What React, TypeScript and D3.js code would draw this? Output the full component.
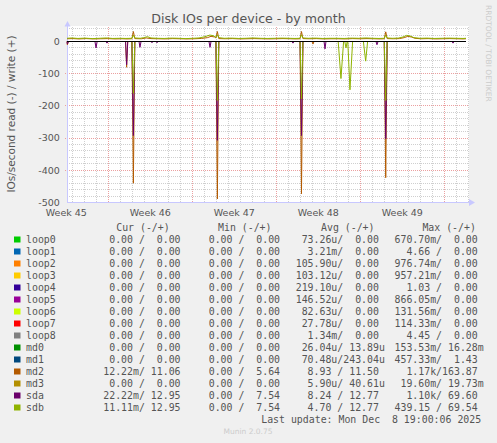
import React from 'react';
import * as d3 from 'd3';

const W = 497;
const H = 443;
const DAY = 86400000;
const START = Date.UTC(2025, 10, 5, 13, 24);
const END = START + 33.5 * DAY;

const title = 'Disk IOs per device - by month';
const yTitle = 'IOs/second read (-) / write (+)';
const yTicks = [0, -100, -200, -300, -400, -500];
const weekLabels = ['Week 45', 'Week 46', 'Week 47', 'Week 48', 'Week 49'];
const weekLabelDates = [
  Date.UTC(2025, 10, 5, 12),
  Date.UTC(2025, 10, 12, 12),
  Date.UTC(2025, 10, 19, 12),
  Date.UTC(2025, 10, 26, 12),
  Date.UTC(2025, 11, 3, 12),
];

// [day offset from start, value]
const md2Write: [number, number][] = [
  [0.0, 8.5], [0.5, 9], [1.0, 8], [1.6, 9], [2.2, 8], [2.8, 8.5], [3.4, 9], [4.0, 8], [4.6, 8.5], [5.0, 8],
  [5.41, 8.5], [5.53, 31], [5.65, 9], [6.2, 8.5], [6.6, 11], [7.0, 9], [7.6, 8.5], [8.2, 8], [8.8, 9], [9.4, 8.5],
  [10.0, 8], [10.6, 8.5], [11.2, 9.5], [11.7, 12], [12.0, 16], [12.3, 14], [12.41, 11], [12.53, 31], [12.65, 9],
  [13.2, 8.5], [13.8, 9], [14.4, 8], [15.0, 8.5], [15.6, 9], [16.2, 8.5], [16.8, 8], [17.4, 8.5], [18.0, 9],
  [18.6, 8.5], [19.1, 8], [19.42, 8.5], [19.54, 31], [19.66, 9], [20.2, 8.5], [20.8, 9], [21.4, 8], [22.0, 8.5],
  [22.6, 8.5], [23.2, 8], [23.8, 9], [24.4, 8.5], [25.0, 9], [25.6, 8.5], [26.1, 8], [26.44, 8.5], [26.56, 30],
  [26.68, 9], [27.2, 8.5], [27.7, 9], [28.1, 12], [28.4, 16], [28.7, 14], [29.0, 10], [29.5, 8.5], [30.1, 9],
  [30.7, 8], [31.3, 8.5], [31.9, 9], [32.5, 8.5], [33.0, 8], [33.25, 8.5],
];
const md2Read: [number, number][] = [
  [0, 0], [0.03, -10], [0.12, 0], [4.88, 0], [4.97, -80], [5.06, 0], [5.41, 0], [5.53, -440], [5.65, 0],
  [12.41, 0], [12.53, -489], [12.65, 0], [19.42, 0], [19.54, -473], [19.66, 0], [20.42, 0], [20.5, -8],
  [20.58, 0], [26.44, 0], [26.56, -423], [26.68, 0], [33.25, 0],
];
const sdaRead: [number, number][] = [
  [0, 0], [0.03, -8], [0.12, 0], [2.33, 0], [2.42, -20], [2.51, 0], [3.25, 0], [3.33, -5], [3.42, 0],
  [4.88, 0], [4.97, -72], [5.06, 0], [5.41, 0], [5.53, -292], [5.65, 0], [6.0, 0], [6.08, -18], [6.17, 0],
  [7.0, 0], [7.08, -4], [7.17, 0], [7.4, 0], [7.5, -4], [7.6, 0], [11.83, 0], [11.92, -18], [12.0, 0],
  [12.41, 0], [12.53, -307], [12.65, 0], [18.75, 0], [18.83, -5], [18.92, 0], [19.42, 0], [19.54, -292],
  [19.66, 0], [21.42, 0], [21.5, -23], [21.58, 0], [25.75, 0], [25.83, -10], [25.92, 0], [26.44, 0],
  [26.56, -302], [26.68, 0], [32.08, 0], [32.17, -5], [32.25, 0], [33.25, 0],
];
const sdbRead: [number, number][] = [
  [0, 0], [5.41, 0], [5.53, -161], [5.65, 0], [12.41, 0], [12.53, -183], [12.65, 0], [19.42, 0],
  [19.54, -178], [19.66, 0], [22.6, 0], [22.83, -115], [23.05, 0], [23.15, 0], [23.25, -20], [23.35, 0],
  [23.4, 0], [23.58, -150], [23.8, 0], [24.7, 0], [24.89, -61], [25.05, 0], [26.44, 0], [26.56, -183],
  [26.68, 0], [33.25, 0],
];
const sdbWrite: [number, number][] = [
  [0.0, 10], [0.4, 11], [0.9, 9.5], [1.5, 10.5], [2.1, 9], [2.7, 10], [3.3, 11], [3.8, 9.5], [4.4, 10],
  [4.9, 9.5], [5.41, 10], [5.53, 20], [5.65, 11], [6.1, 10], [6.4, 12], [6.7, 15], [7.0, 11], [7.5, 10],
  [8.1, 9.5], [8.7, 10.5], [9.3, 10], [9.9, 9], [10.5, 10], [11.0, 11], [11.5, 15], [11.9, 20], [12.2, 18],
  [12.41, 13], [12.53, 21], [12.65, 12], [13.1, 10], [13.7, 10.5], [14.3, 9.5], [14.9, 10], [15.5, 11],
  [16.1, 10], [16.7, 9.5], [17.3, 10], [17.9, 10.5], [18.5, 10], [19.0, 9.5], [19.42, 10], [19.54, 21],
  [19.66, 11], [20.1, 10], [20.7, 10.5], [21.3, 9.5], [21.9, 10], [22.5, 10], [23.1, 9.5], [23.7, 10.5],
  [24.3, 10], [24.9, 11], [25.5, 10], [26.0, 9.5], [26.44, 10], [26.56, 20], [26.68, 11], [27.1, 10],
  [27.6, 10.5], [28.0, 14], [28.3, 19], [28.6, 17], [28.9, 12], [29.4, 10], [30.0, 10.5], [30.6, 9.5],
  [31.2, 10], [31.8, 10.5], [32.4, 10], [33.0, 9.5], [33.25, 10],
];

const legendNames = ['loop0', 'loop1', 'loop2', 'loop3', 'loop4', 'loop5', 'loop6', 'loop7', 'loop8', 'md0', 'md1', 'md2', 'md3', 'sda', 'sdb'];
const legendColors = ['#00CC00', '#0066B3', '#FF8000', '#FFCC00', '#330099', '#990099', '#CCFF00', '#FF0000', '#808080', '#008F00', '#00487D', '#B35A00', '#B38F00', '#6B006B', '#8FB300'];
const curValues = [
  '  0.00 /  0.00 ', '  0.00 /  0.00 ', '  0.00 /  0.00 ', '  0.00 /  0.00 ', '  0.00 /  0.00 ',
  '  0.00 /  0.00 ', '  0.00 /  0.00 ', '  0.00 /  0.00 ', '  0.00 /  0.00 ', '  0.00 /  0.00 ',
  '  0.00 /  0.00 ', ' 12.22m/ 11.06 ', '  0.00 /  0.00 ', ' 22.22m/ 12.95 ', ' 11.11m/ 12.95 ',
];
const minValues = [
  '  0.00 /  0.00 ', '  0.00 /  0.00 ', '  0.00 /  0.00 ', '  0.00 /  0.00 ', '  0.00 /  0.00 ',
  '  0.00 /  0.00 ', '  0.00 /  0.00 ', '  0.00 /  0.00 ', '  0.00 /  0.00 ', '  0.00 /  0.00 ',
  '  0.00 /  0.00 ', '  0.00 /  5.64 ', '  0.00 /  0.00 ', '  0.00 /  7.54 ', '  0.00 /  7.54 ',
];
const avgValues = [
  ' 73.26u/  0.00 ', '  3.21m/  0.00 ', '105.90u/  0.00 ', '103.12u/  0.00 ', '219.10u/  0.00 ',
  '146.52u/  0.00 ', ' 82.63u/  0.00 ', ' 27.78u/  0.00 ', '  1.34m/  0.00 ', ' 26.04u/ 13.89u',
  ' 70.48u/243.04u', '  8.93 / 11.50 ', '  5.90u/ 40.61u', '  8.24 / 12.77 ', '  4.70 / 12.77 ',
];
const maxValues = [
  '670.70m/  0.00 ', '  4.66 /  0.00 ', '976.74m/  0.00 ', '957.21m/  0.00 ', '  1.03 /  0.00 ',
  '866.05m/  0.00 ', '131.56m/  0.00 ', '114.33m/  0.00 ', '  4.45 /  0.00 ', '153.53m/ 16.28m',
  '457.33m/  1.43 ', '  1.17k/163.87 ', ' 19.60m/ 19.73m', '  1.10k/ 69.60 ', '439.15 / 69.54 ',
];
const legendHeaders = ['Cur (-/+)', 'Min (-/+)', 'Avg (-/+)', 'Max (-/+)'];
const lastUpdate = 'Last update: Mon Dec  8 19:00:06 2025';

const PL = 67, PR = 469, PT = 26.5, PB = 202.5;

export default function App() {
  const x = d3.scaleUtc().domain([new Date(START), new Date(END)]).range([PL, PR]);
  const y = d3.scaleLinear().domain([-500, 46.6]).range([PB, PT]);
  const px = (v: number) => Math.floor(v) + 0.5;

  const line = d3
    .line<[number, number]>()
    .x((d) => x(new Date(START + d[0] * DAY)))
    .y((d) => y(d[1]));

  const days = d3.utcDay.range(new Date(START), new Date(END));
  const minorDays = days.filter((d) => d.getUTCDay() !== 0);
  const sundays = d3.utcSunday.range(new Date(START), new Date(END));
  const hMinor = d3.range(-480, 47, 20).filter((v) => v % 100 !== 0);
  const hMajor = [-100, -200, -300, -400];

  const mono = "'DejaVu Sans Mono', monospace";
  const sans = "'DejaVu Sans', sans-serif";
  const textCol = '#555555';
  const colStarts = [97.3, 196.8, 295.7, 394.5];
  const headerX = [116.2, 218, 321, 422.4];
  const cols = [curValues, minValues, avgValues, maxValues];

  const series: { data: [number, number][]; color: string }[] = [
    { data: md2Read, color: legendColors[11] },
    { data: md2Write, color: legendColors[11] },
    { data: sdaRead, color: legendColors[13] },
    { data: sdbRead, color: legendColors[14] },
    { data: sdbWrite, color: legendColors[14] },
  ];

  return (
    <svg width={W} height={H} style={{ position: 'absolute', left: 0, top: 0, display: 'block' }}>
      <rect x={0} y={0} width={W} height={H} fill="#F0F0F0" />
      <rect x={PL} y={26} width={PR - PL} height={PB - 26.5} fill="#FFFFFF" />
      {/* grid */}
      <g shapeRendering="crispEdges">
        {minorDays.map((d, i) => (
          <line key={'vm' + i} x1={px(x(d))} x2={px(x(d))} y1={PT} y2={PB} stroke="#CFCFCF" strokeDasharray="1,1" />
        ))}
        {hMinor.map((v, i) => (
          <line key={'hm' + i} x1={PL} x2={PR} y1={px(y(v))} y2={px(y(v))} stroke="#CFCFCF" strokeDasharray="1,1" />
        ))}
        {sundays.map((d, i) => (
          <line key={'vM' + i} x1={px(x(d))} x2={px(x(d))} y1={PT} y2={PB} stroke="#EBA0A0" strokeDasharray="1,1" />
        ))}
        {hMajor.map((v, i) => (
          <line key={'hM' + i} x1={PL - 2} x2={PR} y1={px(y(v))} y2={px(y(v))} stroke="#EBA0A0" strokeDasharray="1,1" />
        ))}
      </g>
      {/* axes */}
      <line x1={PL + 0.5} x2={PL + 0.5} y1={24} y2={PB} stroke="#C8C8FF" shapeRendering="crispEdges" />
      <line x1={PL} x2={472} y1={PB} y2={PB} stroke="#C8C8FF" shapeRendering="crispEdges" />
      <path d={`M${PL - 2.5},26.5 L${PL + 3.5},26.5 L${PL + 0.5},21 Z`} fill="#C8C8FF" />
      <path d={`M469,199 L469,206 L475,202.5 Z`} fill="#C8C8FF" />
      {/* series */}
      {series.map((s, i) => (
        <path key={'s' + i} d={line(s.data) || ''} fill="none" stroke={s.color} strokeWidth={1} />
      ))}
      <line x1={PL} x2={466} y1={px(y(0))} y2={px(y(0))} stroke="#000000" shapeRendering="crispEdges" />
      {/* y ticks */}
      {yTicks.map((v) => (
        <text key={'yt' + v} x={59.8} y={y(v)} dy="0.34em" textAnchor="end" fontFamily={sans} fontSize={9.5} fill={textCol}>
          {v}
        </text>
      ))}
      {/* x labels */}
      {weekLabels.map((l, i) => (
        <text key={'xl' + i} x={x(new Date(weekLabelDates[i]))} y={215.5} textAnchor="middle" fontFamily={sans} fontSize={9.5} fill={textCol}>
          {l}
        </text>
      ))}
      {/* titles */}
      <text x={248.5} y={23.3} textAnchor="middle" fontFamily={sans} fontSize={12.6} fill={textCol}>
        {title}
      </text>
      <text transform="translate(15,114) rotate(-90)" textAnchor="middle" fontFamily={sans} fontSize={10.5} fill={textCol}>
        {yTitle}
      </text>
      <text transform="translate(485.5,5) rotate(90)" textAnchor="start" fontFamily={sans} fontSize={7.5} fill="#CCCCCC">
        RRDTOOL / TOBI OETIKER
      </text>
      {/* legend */}
      <g fontFamily={mono} fontSize={9.9} fill={textCol}>
        {legendHeaders.map((h, i) => (
          <text key={'h' + i} x={headerX[i]} y={231} xmlSpace="preserve" style={{ whiteSpace: 'pre' }}>
            {h}
          </text>
        ))}
        {legendNames.map((n, i) => {
          const by = 243 + 12 * i;
          return (
            <g key={'lg' + i}>
              <rect x={14} y={by - 6.5} width={6.5} height={6} fill={legendColors[i]} />
              <text x={26} y={by}>{n}</text>
              {cols.map((c, j) => (
                <text key={j} x={colStarts[j]} y={by} xmlSpace="preserve" style={{ whiteSpace: 'pre' }}>
                  {c[i]}
                </text>
              ))}
            </g>
          );
        })}
        <text x={261.2} y={423} xmlSpace="preserve" style={{ whiteSpace: 'pre' }}>
          {lastUpdate}
        </text>
      </g>
      <text x={248} y={434} textAnchor="middle" fontFamily={sans} fontSize={7.5} fill="#CCCCCC">
        Munin 2.0.75
      </text>
    </svg>
  );
}
